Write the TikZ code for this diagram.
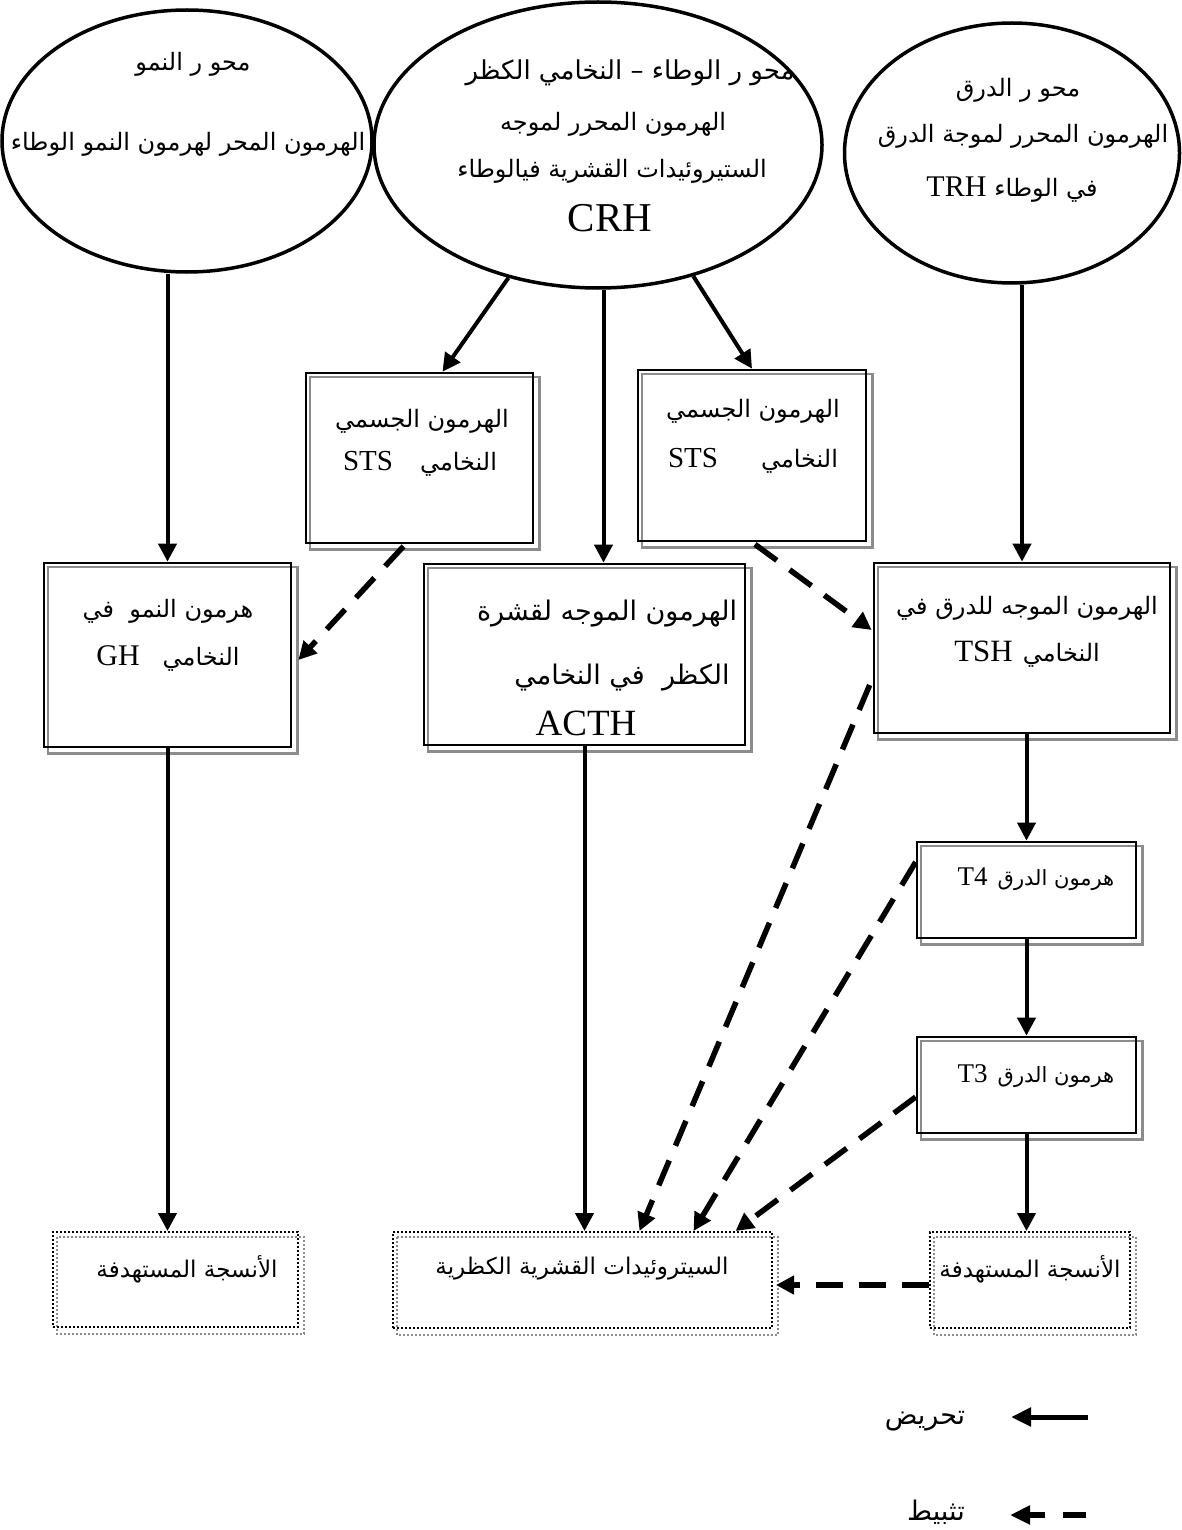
\documentclass[tikz,border=0pt]{standalone}
\usepackage{fontspec}
\usetikzlibrary{arrows.meta,shapes.geometric,backgrounds}
\TeXXeTstate=1
\newfontfamily\arabicfont[Script=Arabic]{DejaVu Sans}
\newfontfamily\latinfont{Liberation Serif}
\newcommand{\ArT}[1]{{\arabicfont\beginR #1\endR}}
\newcommand{\LaT}[2]{{\latinfont\fontsize{#1}{#1}\selectfont #2}}
\definecolor{shadowgray}{gray}{0.55}

\tikzset{
  axis/.style={ellipse, draw, line width=3.5pt, inner sep=0pt},
  hormbox/.style={rectangle, draw, line width=2.7pt, inner sep=0pt},
  tissuebox/.style={rectangle, draw, line width=2pt, dash pattern=on 2pt off 2pt, inner sep=0pt},
  boxshade/.style={draw=shadowgray, line width=2.3pt},
  tissueshade/.style={draw=shadowgray, line width=1.8pt, dash pattern=on 2pt off 2pt},
  lbl/.style={inner sep=0pt, anchor=center, font=\fontsize{#1}{#1}\selectfont},
  lbl/.default=24,
  stim/.style={line width=4pt, -{Triangle[length=18pt,width=18pt]}},
  inhib/.style={line width=5.5pt, dash pattern=on 27pt off 16pt, -{Triangle[length=18pt,width=18pt]}},
}

\begin{document}
\begin{tikzpicture}[x=1pt,y=-1pt]
\useasboundingbox (0,0) rectangle (1182,1530);

% hypothalamic axes
\node[axis, minimum width=370, minimum height=262] (e1) at (187,141) {};
\node[axis, minimum width=448, minimum height=286] (e2) at (598,145) {};
\node[axis, minimum width=335, minimum height=260] (e3) at (1012,153) {};

\node[lbl] (e1a) at (193,64) {\ArT{محو ر النمو}};
\node[lbl] (e1b) at (188,144) {\ArT{الهرمون المحر لهرمون النمو الوطاء}};

\node[lbl=26] (e2a) at (630,73) {\ArT{محو ر الوطاء – النخامي الكظر}};
\node[lbl] (e2b) at (613,124) {\ArT{الهرمون المحرر لموجه}};
\node[lbl] (e2c) at (612,171) {\ArT{الستيروئيدات القشرية فيالوطاء}};
\node[lbl] (e2d) at (610,218) {\LaT{41}{CRH}};

\node[lbl] (e3a) at (1018,90) {\ArT{محو ر الدرق}};
\node[lbl] (e3b) at (1023,136) {\ArT{الهرمون المحرر لموجة الدرق}};
\node[lbl] (e3c) at (1012,190) {\LaT{30}{TRH}\hspace{8pt}\ArT{في الوطاء}};

% pituitary hormones
\node[hormbox, minimum width=227, minimum height=170] (stsL) at (419.5,458) {};
\node[hormbox, minimum width=228, minimum height=171] (stsR) at (752,455.5) {};
\node[hormbox, minimum width=247, minimum height=184] (gh) at (167.5,655) {};
\node[hormbox, minimum width=321, minimum height=181] (acth) at (584.5,654.5) {};
\node[hormbox, minimum width=296, minimum height=170] (tsh) at (1022,648) {};
\node[hormbox, minimum width=219, minimum height=96] (t4) at (1026.5,890) {};
\node[hormbox, minimum width=219, minimum height=96] (t3) at (1026.5,1085) {};

\node[lbl] (stsLa) at (422,421) {\ArT{الهرمون الجسمي}};
\node[lbl] (stsLb) at (420,464) {\LaT{29}{STS}\hspace{27pt}\ArT{النخامي}};
\node[lbl] (stsRa) at (753,411) {\ArT{الهرمون الجسمي}};
\node[lbl] (stsRb) at (753,461) {\LaT{29}{STS}\hspace{43pt}\ArT{النخامي}};
\node[lbl] (gha) at (168,611) {\ArT{هرمون النمو\ \ في}};
\node[lbl] (ghb) at (168,658) {\LaT{30}{GH}\hspace{23pt}\ArT{النخامي}};
\node[lbl=27] (actha) at (607,614) {\ArT{الهرمون الموجه لقشرة}};
\node[lbl=27] (acthb) at (622,678) {\ArT{الكظر\ \ في النخامي}};
\node[lbl] (acthc) at (586,723) {\LaT{37}{ACTH}};
\node[lbl] (tsha) at (1027,608) {\ArT{الهرمون الموجه للدرق في}};
\node[lbl] (tshb) at (1027,654) {\LaT{31}{TSH}\hspace{10pt}\ArT{النخامي}};
\node[lbl=21] (t4a) at (1036,879) {\LaT{27}{T4}\hspace{10pt}\ArT{هرمون الدرق}};
\node[lbl=21] (t3a) at (1036,1076) {\LaT{27}{T3}\hspace{10pt}\ArT{هرمون الدرق}};

% target tissues
\node[tissuebox, minimum width=245, minimum height=95] (tgtL) at (175.5,1279.5) {};
\node[tissuebox, minimum width=379, minimum height=96] (tgtM) at (582.5,1280) {};
\node[tissuebox, minimum width=200, minimum height=96] (tgtR) at (1030,1280) {};
\node[lbl=23] (tgtLa) at (187,1269) {\ArT{الأنسجة المستهدفة}};
\node[lbl=23] (tgtMa) at (582,1269) {\ArT{السيتروئيدات القشرية الكظرية}};
\node[lbl=23] (tgtRa) at (1030,1269) {\ArT{الأنسجة المستهدفة}};

% stimulation
\coordinate (acthIn) at ([shift={(19,0)}]acth.north);
\draw[stim] (gh.north |- e1.south) -- (gh.north);
\draw[stim] (e2.236) -- ([shift={(23,0)}]stsL.north);
\draw[stim] (acthIn |- e2.south) -- (acthIn);
\draw[stim] (e2.306) -- (stsR.north);
\draw[stim] (tsh.north |- e3.south) -- (tsh.north);
\draw[stim] (gh.south) -- (gh.south |- tgtL.north);
\draw[stim] (acth.south) -- (acth.south |- tgtM.north);
\draw[stim] (t4.north |- tsh.south) -- (t4.north);
\draw[stim] (t4.south) -- (t3.north);
\draw[stim] (t3.south) -- (t3.south |- tgtR.north);

% inhibition
\draw[inhib] ([shift={(-16,2)}]stsL.south) -- ([shift={(6,5)}]gh.east);
\draw[inhib] ([shift={(3,2)}]stsR.south) -- ([shift={(-1,-18)}]tsh.west);
\draw[inhib] ([shift={(-3,37)}]tsh.west) -- ([shift={(57,0)}]tgtM.north);
\draw[inhib] ([shift={(0,-28)}]t4.west) -- ([shift={(111,0)}]tgtM.north);
\draw[inhib] ([shift={(0,12)}]t3.west) -- ([shift={(153,0)}]tgtM.north);
\draw[inhib] ([shift={(0,5)}]tgtR.west) -- ([shift={(3,5)}]tgtM.east);

% legend
\coordinate (lgSa) at (1088,1417);
\coordinate (lgSb) at (1011,1417);
\coordinate (lgIa) at (1086,1515);
\coordinate (lgIb) at (1010,1515);
\draw[line width=5pt, -{Triangle[length=20pt,width=18pt]}] (lgSa) -- (lgSb);
\draw[line width=6pt, dash pattern=on 23pt off 18pt, -{Triangle[length=20pt,width=18pt]}] (lgIa) -- (lgIb);
\node[lbl=27] (lgSt) at (925,1421) {\ArT{تحريض}};
\node[lbl=27] (lgIt) at (936,1512) {\ArT{تثبيط}};

% offset grey outlines behind the boxes
\begin{scope}[on background layer]
  \fill[white] (0,0) rectangle (1182,1530);
  \foreach \b in {stsL,stsR,gh,acth,tsh,t4,t3}
    \draw[boxshade] ([shift={(5,5)}]\b.north west) rectangle ([shift={(5,5)}]\b.south east);
  \foreach \b in {tgtL,tgtM,tgtR}
    \draw[tissueshade] ([shift={(5,6)}]\b.north west) rectangle ([shift={(5,6)}]\b.south east);
\end{scope}
\end{tikzpicture}
\end{document}
